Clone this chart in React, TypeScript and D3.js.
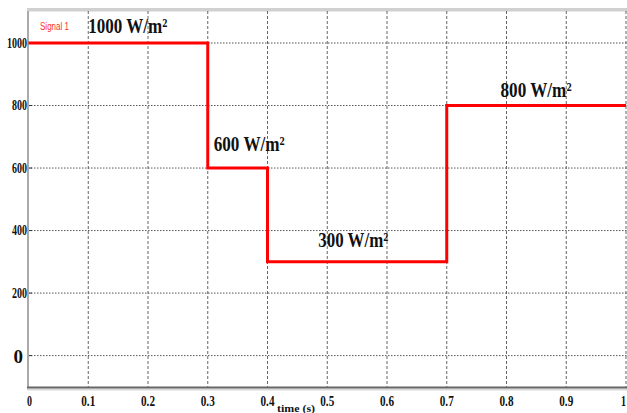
import React from "react";
import * as d3 from "d3";

const stepTimes = [0, 0.3, 0.4, 0.7, 1.0];
const stepValues = [1000, 600, 300, 800, 800];
const xTicks = [0, 0.1, 0.2, 0.3, 0.4, 0.5, 0.6, 0.7, 0.8, 0.9, 1];
const xTickLabels = ["0", "0.1", "0.2", "0.3", "0.4", "0.5", "0.6", "0.7", "0.8", "0.9", "1"];
const yTicks = [0, 200, 400, 600, 800, 1000];
const yTickLabels = ["0", "200", "400", "600", "800", "1000"];
const annotations = [
  { label: "1000 W/m²", t: 0.1, v: 1000 },
  { label: "600 W/m²", t: 0.31, v: 600 },
  { label: "300 W/m²", t: 0.485, v: 300 },
  { label: "800 W/m²", t: 0.79, v: 800 },
];
const annotationPos = [
  { dx: 0, dy: -10, w: 79 },
  { dx: 0, dy: -17, w: 71 },
  { dx: 0, dy: -15, w: 70 },
  { dx: 0, dy: -9, w: 71 },
];

export default function App() {
  const W = 627, H = 413;
  const x = d3.scaleLinear().domain([0, 1]).range([28.5, 626]);
  const y = d3.scaleLinear().domain([0, 1000]).range([355.6, 43]);
  const top = 11, bottom = 388, left = 28;

  const pts: [number, number][] = stepTimes.map((t, i) => [t, stepValues[i]]);
  const line = d3
    .line<[number, number]>()
    .x((d) => x(d[0]))
    .y((d) => y(d[1]))
    .curve(d3.curveStepAfter);

  const serif = "'Liberation Serif', 'Times New Roman', serif";

  return (
    <svg
      width={W}
      height={H}
      style={{ position: "absolute", left: 0, top: 0, background: "#fff" }}
    >
      <rect x={0} y={0} width={W} height={H} fill="#fff" />
      <rect x={left - 1} y={8} width={W - left + 1} height={3.5} fill="#d0d0d0" />
      {xTicks.map((t, i) =>
        i === 0 ? null : (
          <line
            key={"vx" + i}
            x1={x(t)}
            x2={x(t)}
            y1={top}
            y2={bottom}
            stroke="#666"
            strokeWidth={1}
            strokeDasharray="3,2"
          />
        )
      )}
      {yTicks.map((v, i) => (
        <line
          key={"hy" + i}
          x1={left}
          x2={W}
          y1={y(v)}
          y2={y(v)}
          stroke="#555"
          strokeWidth={1}
          strokeDasharray="1.5,1.5"
        />
      ))}
      {yTicks.map((v, i) => (
        <line key={"tk" + i} x1={left} x2={left + 4} y1={y(v)} y2={y(v)} stroke="#333" strokeWidth={1} />
      ))}
      <line x1={left} x2={left} y1={top} y2={bottom} stroke="#aaa" strokeWidth={2} />
      <rect x={left - 1} y={388.5} width={W - left + 1} height={2} fill="#d8d8d8" />
      <line x1={left - 1} x2={W} y1={387.5} y2={387.5} stroke="#666" strokeWidth={2} />

      <path d={line(pts) || ""} fill="none" stroke="#ff0000" strokeWidth={3} />

      {yTicks.map((v, i) =>
        v === 0 ? (
          <text
            key={"yl" + i}
            x={23}
            y={y(v) + 7}
            textAnchor="end"
            fontFamily={serif}
            fontWeight="bold"
            fontSize={19}
            fill="#111"
          >
            {yTickLabels[i]}
          </text>
        ) : (
          <text
            key={"yl" + i}
            x={27}
            y={y(v) + 4.5}
            textAnchor="end"
            fontFamily={serif}
            fontWeight="bold"
            fontSize={14}
            fill="#111"
            textLength={yTickLabels[i].length * 5}
            lengthAdjust="spacingAndGlyphs"
          >
            {yTickLabels[i]}
          </text>
        )
      )}
      {xTicks.map((t, i) => (
        <text
          key={"xl" + i}
          x={x(t) + (i === 0 ? 1 : i === xTicks.length - 1 ? -2.5 : 0)}
          y={406}
          textAnchor="middle"
          fontFamily={serif}
          fontWeight="bold"
          fontSize={14}
          fill="#111"
          textLength={xTickLabels[i].length === 1 ? 5 : 14}
          lengthAdjust="spacingAndGlyphs"
        >
          {xTickLabels[i]}
        </text>
      ))}
      <text
        x={296}
        y={411.5}
        textAnchor="middle"
        fontFamily={serif}
        fontWeight="bold"
        fontSize={11}
        fill="#111"
        textLength={38}
        lengthAdjust="spacingAndGlyphs"
      >
        time (s)
      </text>

      {annotations.map((a, i) => (
        <text
          key={"an" + i}
          x={x(a.t) + annotationPos[i].dx}
          y={y(a.v) + annotationPos[i].dy}
          fontFamily={serif}
          fontWeight="bold"
          fontSize={22}
          fill="#111"
          textLength={annotationPos[i].w}
          lengthAdjust="spacingAndGlyphs"
        >
          {a.label}
        </text>
      ))}
      <text
        x={40}
        y={30}
        fontFamily="'Liberation Sans', Arial, sans-serif"
        fontSize={10}
        fill="#ff3030"
        textLength={29}
        lengthAdjust="spacingAndGlyphs"
      >
        Signal 1
      </text>
    </svg>
  );
}
